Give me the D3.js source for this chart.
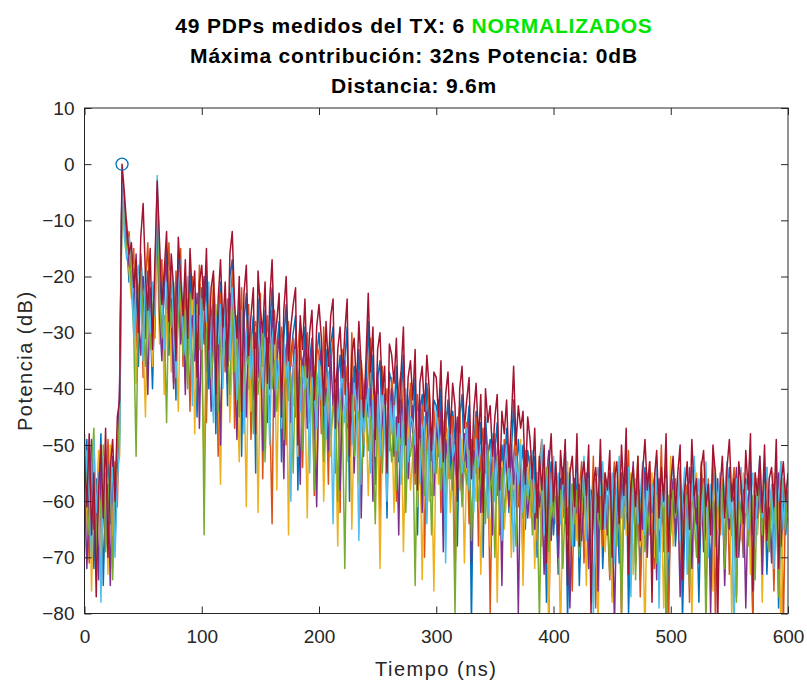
<!DOCTYPE html>
<meta charset="utf-8">
<style>
body { margin: 0; background: #fff; }
text { font-family: "Liberation Sans", Arial, sans-serif; }
.axis text { font-size: 19px; fill: #262626; }
.axis line { stroke: #262626; }
.axis path { display: none; }
.title { font-size: 21px; font-weight: bold; fill: #000; text-anchor: middle; letter-spacing: 0.8px; }
.label { font-size: 20px; fill: #262626; text-anchor: middle; letter-spacing: 1.5px; }
.pdp { fill: none; stroke-width: 1.5; stroke-linejoin: round; }
</style>
<svg width="807" height="682"></svg>
<script src="https://cdn.jsdelivr.net/npm/d3@7"></script>
<script>

// tiempo en ns, un valor cada 2 ns
var tiempo = d3.range(0, 601, 2);

var xTicks = [0, 100, 200, 300, 400, 500, 600];
var yTicks = [-80, -70, -60, -50, -40, -30, -20, -10, 0, 10];

var colores = ["#0072BD", "#D95319", "#EDB120", "#7E2F8E", "#77AC30", "#4DBEEE", "#A2142F"];

var pdp1 = [
  -58,-49,-67,-53,-72,-56,-62,-48,-75,-59,
  -51,-64,-57,-68,-52,-48,-2,-9,-14,-21,
  -17,-28,-20,-36,-16,-24,-31,-19,-27,-40,
  -22,-8,-18,-30,-23,-15,-34,-20,-26,-42,
  -16,-25,-33,-21,-37,-19,-29,-24,-45,-26,
  -22,-32,-19,-40,-27,-24,-48,-29,-21,-35,
  -26,-43,-20,-17,-30,-38,-25,-52,-28,-23,
  -40,-32,-27,-55,-24,-31,-36,-26,-46,-29,
  -22,-38,-33,-28,-53,-31,-25,-42,-34,-30,
  -27,-58,-32,-39,-29,-45,-35,-31,-49,-34,
  -30,-37,-50,-33,-42,-32,-29,-55,-38,-34,
  -44,-35,-29,-60,-40,-36,-47,-33,-42,-52,
  -40,-28,-43,-34,-57,-38,-35,-48,-41,-63,
  -37,-39,-45,-36,-53,-42,-34,-58,-43,-40,
  -48,-38,-66,-44,-41,-51,-39,-46,-59,-42,
  -43,-52,-40,-61,-47,-42,-55,-44,-49,-68,
  -45,-41,-54,-48,-43,-82,-50,-44,-56,-46,
  -70,-45,-52,-49,-60,-51,-46,-66,-50,-55,
  -47,-62,-52,-42,-57,-49,-54,-50,-65,-51,
  -54,-62,-52,-70,-58,-64,-55,-78,-60,-53,
  -66,-59,-73,-56,-63,-54,-81,-61,-57,-68,
  -53,-75,-62,-58,-65,-55,-70,-63,-59,-69,
  -54,-72,-61,-64,-56,-77,-62,-58,-71,-55,
  -65,-52,-80,-63,-59,-67,-57,-74,-61,-54,
  -64,-58,-71,-62,-56,-69,-60,-66,-53,-76,
  -63,-57,-68,-61,-55,-81,-64,-58,-72,-54,
  -65,-61,-78,-60,-56,-67,-63,-73,-55,-61,
  -74,-64,-57,-69,-60,-54,-66,-62,-77,-58,
  -63,-70,-56,-64,-53,-80,-61,-65,-57,-68,
  -55,-73,-62,-60,-67,-54,-79,-63,-58,-66,
  -61
];

var pdp2 = [
  -63,-55,-71,-50,-59,-68,-53,-74,-57,-65,
  -49,-58,-72,-53,-61,-40,-3,-8,-15,-12,
  -20,-15,-33,-23,-18,-38,-21,-14,-29,-25,
  -31,-6,-21,-17,-35,-24,-14,-27,-39,-19,
  -25,-15,-36,-22,-28,-44,-20,-26,-33,-18,
  -30,-21,-46,-25,-35,-20,-28,-52,-23,-31,
  -37,-24,-29,-19,-47,-27,-33,-22,-41,-30,
  -25,-49,-31,-28,-37,-23,-56,-32,-27,-43,
  -64,-26,-35,-40,-29,-33,-50,-28,-36,-31,
  -45,-33,-28,-54,-36,-30,-41,-35,-59,-32,
  -34,-48,-29,-39,-57,-35,-31,-44,-37,-62,
  -33,-41,-36,-49,-30,-44,-38,-56,-35,-40,
  -46,-37,-31,-53,-42,-39,-64,-36,-44,-40,
  -51,-38,-43,-60,-40,-37,-47,-42,-55,-39,
  -45,-57,-41,-48,-43,-70,-46,-40,-53,-44,
  -50,-42,-62,-47,-44,-56,-49,-45,-74,-48,
  -43,-58,-50,-46,-64,-49,-52,-45,-68,-51,
  -47,-55,-50,-80,-53,-48,-59,-51,-63,-49,
  -56,-50,-66,-52,-47,-61,-54,-72,-51,-58,
  -52,-60,-57,-67,-53,-49,-63,-58,-82,-55,
  -61,-54,-69,-57,-62,-51,-66,-59,-76,-56,
  -64,-58,-53,-71,-60,-56,-65,-52,-79,-61,
  -57,-68,-55,-63,-74,-58,-53,-66,-60,-81,
  -56,-62,-51,-70,-59,-64,-55,-77,-61,-57,
  -66,-53,-60,-72,-57,-63,-50,-69,-58,-84,
  -59,-65,-56,-62,-54,-71,-60,-57,-78,-55,
  -63,-58,-68,-53,-61,-75,-56,-64,-52,-80,
  -60,-66,-57,-62,-55,-73,-59,-54,-67,-61,
  -56,-70,-58,-64,-60,-82,-55,-63,-57,-69,
  -62,-54,-66,-59,-76,-57,-61,-53,-83,-58,
  -60
];

var pdp3 = [
  -69,-60,-52,-76,-57,-64,-51,-70,-62,-55,
  -73,-50,-66,-58,-54,-52,-4,-12,-10,-19,
  -24,-18,-39,-26,-21,-31,-45,-22,-28,-36,
  -26,-14,-32,-22,-41,-28,-19,-37,-25,-31,
  -44,-23,-30,-39,-26,-34,-22,-48,-29,-27,
  -36,-54,-28,-24,-42,-31,-26,-38,-57,-30,
  -33,-28,-46,-35,-24,-40,-53,-30,-36,-61,
  -31,-44,-36,-29,-62,-38,-33,-47,-30,-41,
  -37,-30,-58,-34,-45,-39,-32,-66,-37,-43,
  -39,-52,-35,-47,-41,-63,-37,-44,-36,-55,
  -42,-36,-60,-45,-38,-52,-41,-47,-68,-40,
  -47,-43,-53,-39,-65,-46,-42,-57,-44,-50,
  -43,-59,-47,-41,-52,-45,-72,-48,-42,-56,
  -49,-44,-62,-46,-51,-43,-69,-50,-47,-58,
  -52,-47,-61,-49,-74,-51,-46,-60,-53,-76,
  -48,-57,-51,-66,-50,-47,-62,-54,-59,-52,
  -58,-49,-71,-53,-47,-64,-55,-60,-51,-73,
  -54,-61,-52,-68,-57,-50,-78,-56,-53,-65,
  -59,-52,-70,-55,-61,-57,-49,-75,-58,-54,
  -63,-56,-72,-59,-52,-68,-60,-57,-80,-58,
  -55,-64,-59,-85,-57,-63,-53,-70,-61,-58,
  -67,-56,-62,-54,-75,-59,-65,-57,-61,-82,
  -60,-55,-69,-62,-57,-78,-59,-64,-54,-71,
  -58,-66,-61,-55,-73,-60,-52,-68,-63,-84,
  -57,-62,-55,-70,-59,-65,-61,-79,-56,-64,
  -52,-68,-60,-58,-74,-62,-56,-66,-59,-81,
  -61,-55,-67,-58,-63,-72,-57,-60,-76,-54,
  -65,-59,-56,-71,-62,-58,-80,-57,-64,-60,
  -67,-55,-62,-59,-73,-61,-57,-66,-54,-78,
  -60,-64,-58,-70,-55,-63,-59,-84,-62,-57,
  -63
];

var pdp4 = [
  -56,-72,-60,-49,-65,-58,-74,-54,-61,-68,
  -57,-75,-52,-64,-56,-38,-2,-7,-13,-18,
  -19,-26,-16,-28,-34,-20,-24,-41,-22,-30,
  -21,-10,-27,-35,-20,-18,-30,-24,-40,-23,
  -19,-32,-25,-41,-24,-30,-27,-35,-23,-47,
  -27,-20,-37,-30,-44,-25,-33,-29,-50,-26,
  -31,-39,-23,-27,-35,-49,-29,-34,-26,-45,
  -29,-35,-42,-30,-38,-28,-51,-34,-31,-40,
  -26,-45,-35,-31,-39,-56,-33,-30,-46,-36,
  -31,-40,-57,-35,-33,-47,-38,-32,-44,-61,
  -36,-33,-45,-40,-51,-34,-43,-39,-36,-58,
  -40,-35,-47,-42,-38,-55,-41,-37,-63,-43,
  -38,-45,-40,-60,-43,-37,-50,-46,-41,-54,
  -44,-40,-52,-45,-66,-42,-46,-41,-56,-47,
  -43,-55,-46,-42,-62,-48,-44,-53,-47,-59,
  -46,-51,-44,-69,-49,-53,-46,-58,-50,-45,
  -52,-60,-48,-54,-46,-71,-51,-55,-49,-62,
  -51,-47,-59,-53,-66,-49,-56,-52,-75,-50,
  -54,-61,-50,-57,-53,-80,-52,-59,-55,-63,
  -57,-53,-65,-55,-61,-58,-73,-56,-51,-67,
  -59,-55,-70,-58,-54,-64,-57,-79,-60,-56,
  -62,-57,-67,-60,-55,-72,-58,-63,-56,-76,
  -53,-63,-58,-66,-55,-60,-82,-59,-64,-57,
  -61,-56,-68,-60,-53,-71,-62,-58,-65,-55,
  -70,-57,-62,-59,-74,-56,-64,-60,-55,-67,
  -60,-56,-66,-58,-77,-61,-57,-63,-54,-72,
  -58,-64,-60,-55,-69,-61,-57,-80,-59,-63,
  -56,-62,-58,-75,-60,-65,-57,-61,-54,-70,
  -62,-58,-79,-60,-56,-66,-59,-63,-55,-73,
  -58,-64,-60,-71,-57,-62,-55,-68,-61,-59,
  -62
];

var pdp5 = [
  -48,-59,-66,-54,-47,-71,-57,-63,-50,-69,
  -60,-53,-74,-56,-52,-45,-3,-10,-16,-14,
  -22,-30,-52,-24,-19,-27,-36,-23,-33,-26,
  -20,-5,-24,-31,-27,-46,-22,-29,-21,-36,
  -28,-21,-34,-26,-40,-23,-37,-30,-25,-33,
  -24,-66,-30,-27,-38,-33,-25,-44,-31,-36,
  -29,-33,-41,-26,-37,-31,-45,-27,-39,-34,
  -36,-30,-48,-33,-41,-35,-29,-53,-38,-32,
  -40,-35,-44,-37,-31,-49,-36,-42,-38,-55,
  -35,-43,-38,-51,-36,-40,-46,-39,-58,-37,
  -41,-38,-53,-43,-39,-48,-44,-40,-60,-42,
  -45,-72,-43,-48,-41,-52,-46,-44,-57,-47,
  -42,-51,-45,-49,-64,-44,-47,-55,-43,-50,
  -47,-53,-45,-58,-48,-50,-46,-62,-49,-52,
  -48,-75,-50,-54,-47,-59,-51,-49,-66,-52,
  -55,-49,-58,-51,-63,-50,-56,-53,-80,-52,
  -50,-61,-53,-57,-51,-67,-54,-52,-60,-55,
  -53,-64,-51,-58,-55,-70,-52,-57,-54,-62,
  -56,-53,-60,-58,-68,-55,-51,-63,-57,-60,
  -55,-66,-58,-60,-81,-57,-62,-54,-69,-59,
  -63,-56,-61,-58,-72,-60,-55,-67,-57,-64,
  -58,-70,-61,-56,-66,-59,-62,-78,-57,-63,
  -65,-57,-62,-59,-73,-56,-60,-68,-58,-80,
  -60,-57,-67,-62,-55,-74,-59,-63,-57,-69,
  -61,-66,-58,-56,-71,-60,-64,-57,-83,-59,
  -66,-58,-63,-60,-56,-70,-62,-59,-75,-57,
  -63,-70,-59,-61,-57,-82,-60,-65,-58,-68,
  -59,-63,-57,-72,-61,-56,-66,-60,-78,-58,
  -64,-60,-57,-68,-62,-59,-74,-56,-61,-66,
  -57,-62,-69,-59,-64,-58,-77,-60,-56,-65,
  -58
];

var pdp6 = [
  -61,-51,-58,-70,-49,-62,-55,-78,-52,-60,
  -66,-59,-54,-70,-57,-50,-1,-13,-17,-13,
  -16,-31,-21,-18,-25,-35,-19,-24,-30,-21,
  -27,-2,-16,-22,-33,-21,-26,-18,-29,-38,
  -22,-17,-29,-34,-20,-27,-43,-24,-30,-22,
  -33,-23,-28,-21,-36,-46,-27,-32,-25,-40,
  -24,-30,-35,-22,-28,-42,-33,-26,-48,-31,
  -27,-38,-33,-45,-29,-34,-40,-31,-36,-50,
  -31,-28,-40,-35,-47,-32,-38,-34,-60,-37,
  -33,-37,-44,-36,-40,-34,-55,-38,-41,-47,
  -35,-42,-38,-49,-37,-44,-64,-39,-46,-41,
  -37,-46,-40,-44,-50,-39,-43,-67,-42,-48,
  -44,-40,-55,-42,-47,-41,-52,-39,-46,-60,
  -41,-48,-43,-51,-46,-57,-44,-40,-53,-45,
  -46,-50,-44,-57,-48,-45,-64,-49,-47,-55,
  -44,-48,-54,-46,-71,-49,-45,-52,-50,-57,
  -48,-55,-51,-47,-58,-52,-62,-49,-54,-50,
  -55,-50,-63,-52,-48,-60,-53,-51,-67,-54,
  -50,-58,-55,-69,-52,-57,-50,-62,-53,-59,
  -56,-51,-62,-55,-58,-49,-66,-57,-53,-61,
  -52,-59,-55,-64,-57,-50,-61,-54,-68,-58,
  -55,-63,-58,-52,-67,-56,-60,-81,-57,-54,
  -59,-53,-65,-56,-61,-55,-71,-58,-52,-63,
  -57,-62,-54,-77,-58,-56,-64,-59,-53,-66,
  -55,-60,-57,-65,-52,-79,-58,-61,-56,-63,
  -58,-53,-62,-56,-67,-59,-54,-73,-57,-60,
  -52,-61,-56,-64,-58,-53,-70,-57,-60,-55,
  -61,-55,-66,-58,-53,-63,-59,-84,-56,-60,
  -54,-62,-57,-65,-59,-55,-68,-58,-52,-63,
  -59,-54,-61,-57,-72,-56,-60,-53,-65,-58,
  -56
];

var pdp7 = [
  -52,-61,-48,-66,-55,-77,-58,-50,-63,-47,
  -70,-54,-49,-60,-45,-42,0,-5,-11,-16,
  -14,-22,-17,-30,-13,-7,-20,-26,-15,-33,
  -18,-3,-14,-25,-19,-12,-28,-16,-22,-35,
  -13,-20,-27,-17,-31,-15,-24,-19,-38,-21,
  -18,-26,-15,-33,-22,-19,-41,-24,-17,-29,
  -21,-36,-16,-12,-25,-31,-20,-44,-23,-18,
  -34,-27,-22,-48,-19,-26,-30,-21,-39,-24,
  -17,-32,-28,-23,-45,-26,-20,-35,-29,-25,
  -22,-50,-27,-33,-24,-38,-30,-26,-42,-29,
  -25,-31,-43,-28,-36,-27,-24,-47,-33,-29,
  -38,-30,-24,-52,-34,-31,-40,-28,-36,-45,
  -35,-23,-37,-29,-49,-33,-30,-41,-36,-55,
  -32,-34,-39,-31,-46,-37,-29,-50,-38,-35,
  -42,-33,-58,-39,-36,-44,-34,-40,-51,-37,
  -38,-45,-35,-53,-41,-37,-48,-39,-43,-60,
  -40,-36,-47,-42,-38,-56,-44,-39,-49,-41,
  -62,-40,-46,-43,-52,-45,-41,-58,-44,-48,
  -42,-54,-46,-36,-50,-43,-47,-44,-57,-45,
  -49,-56,-47,-63,-52,-58,-50,-71,-54,-48,
  -60,-53,-66,-51,-57,-49,-75,-55,-52,-61,
  -48,-68,-56,-53,-59,-50,-80,-57,-54,-62,
  -49,-65,-55,-58,-51,-70,-56,-53,-64,-50,
  -59,-47,-73,-57,-54,-61,-52,-67,-55,-49,
  -58,-53,-78,-56,-51,-63,-54,-60,-48,-69,
  -57,-52,-62,-55,-50,-74,-58,-53,-65,-49,
  -59,-56,-71,-54,-51,-61,-57,-66,-50,-55,
  -82,-58,-52,-63,-54,-49,-60,-56,-70,-53,
  -57,-64,-51,-58,-48,-76,-55,-59,-52,-62,
  -50,-67,-56,-54,-61,-49,-72,-57,-53,-60,
  -55
];

var pdps = [pdp1, pdp2, pdp3, pdp4, pdp5, pdp6, pdp7];

// maximo: 32 ns, 0 dB
var maxT = 32, maxP = 0;

var svg = d3.select("svg"),
    margin = {top: 108, right: 19, bottom: 68.5, left: 84.5},
    width = +svg.attr("width") - margin.left - margin.right,
    height = +svg.attr("height") - margin.top - margin.bottom;

var x = d3.scaleLinear().domain([0, 600]).range([0, width]),
    y = d3.scaleLinear().domain([-80, 10]).range([height, 0]);

var g = svg.append("g")
    .attr("transform", "translate(" + margin.left + "," + margin.top + ")");

svg.append("defs").append("clipPath")
    .attr("id", "clip")
  .append("rect")
    .attr("width", width)
    .attr("height", height);

var line = d3.line()
    .x(function(d, i) { return x(tiempo[i]); })
    .y(function(d) { return y(d); });

g.append("g")
    .attr("clip-path", "url(#clip)")
  .selectAll(".pdp")
  .data(pdps)
  .enter().append("path")
    .attr("class", "pdp")
    .attr("stroke", function(d, i) { return colores[i % colores.length]; })
    .attr("d", line);

g.append("circle")
    .attr("cx", x(maxT))
    .attr("cy", y(maxP))
    .attr("r", 6)
    .attr("fill", "none")
    .attr("stroke", "#0072BD")
    .attr("stroke-width", 1.3);

// ejes, ticks hacia dentro
g.append("g")
    .attr("class", "axis")
    .attr("transform", "translate(0," + height + ")")
    .call(d3.axisBottom(x).tickValues(xTicks).tickSizeInner(-7).tickSizeOuter(0).tickPadding(16));

g.append("g")
    .attr("class", "axis")
    .call(d3.axisLeft(y).tickValues(yTicks).tickSizeInner(-7).tickSizeOuter(0).tickPadding(10));

g.append("g")
    .attr("class", "axis")
    .call(d3.axisTop(x).tickValues(xTicks).tickSizeInner(-7).tickSizeOuter(0).tickFormat(""));

g.append("g")
    .attr("class", "axis")
    .attr("transform", "translate(" + width + ",0)")
    .call(d3.axisRight(y).tickValues(yTicks).tickSizeInner(-7).tickSizeOuter(0).tickFormat(""));

g.append("rect")
    .attr("width", width)
    .attr("height", height)
    .attr("fill", "none")
    .attr("stroke", "#262626")
    .attr("stroke-width", 1);

g.append("text")
    .attr("class", "label")
    .attr("x", width / 2)
    .attr("y", height + 62)
    .text("Tiempo (ns)");

g.append("text")
    .attr("class", "label")
    .attr("transform", "rotate(-90)")
    .attr("x", -height / 2)
    .attr("y", -53)
    .text("Potencia (dB)");

var t1 = svg.append("text")
    .attr("class", "title")
    .attr("x", 414)
    .attr("y", 33);
t1.append("tspan").text("49 PDPs medidos del TX: 6 ");
t1.append("tspan").attr("fill", "#00e600").text("NORMALIZADOS");

svg.append("text")
    .attr("class", "title")
    .attr("x", 414)
    .attr("y", 63)
    .text("Máxima contribución: " + maxT + "ns Potencia: " + maxP + "dB");

svg.append("text")
    .attr("class", "title")
    .attr("x", 414)
    .attr("y", 93)
    .text("Distancia: 9.6m");

</script>
